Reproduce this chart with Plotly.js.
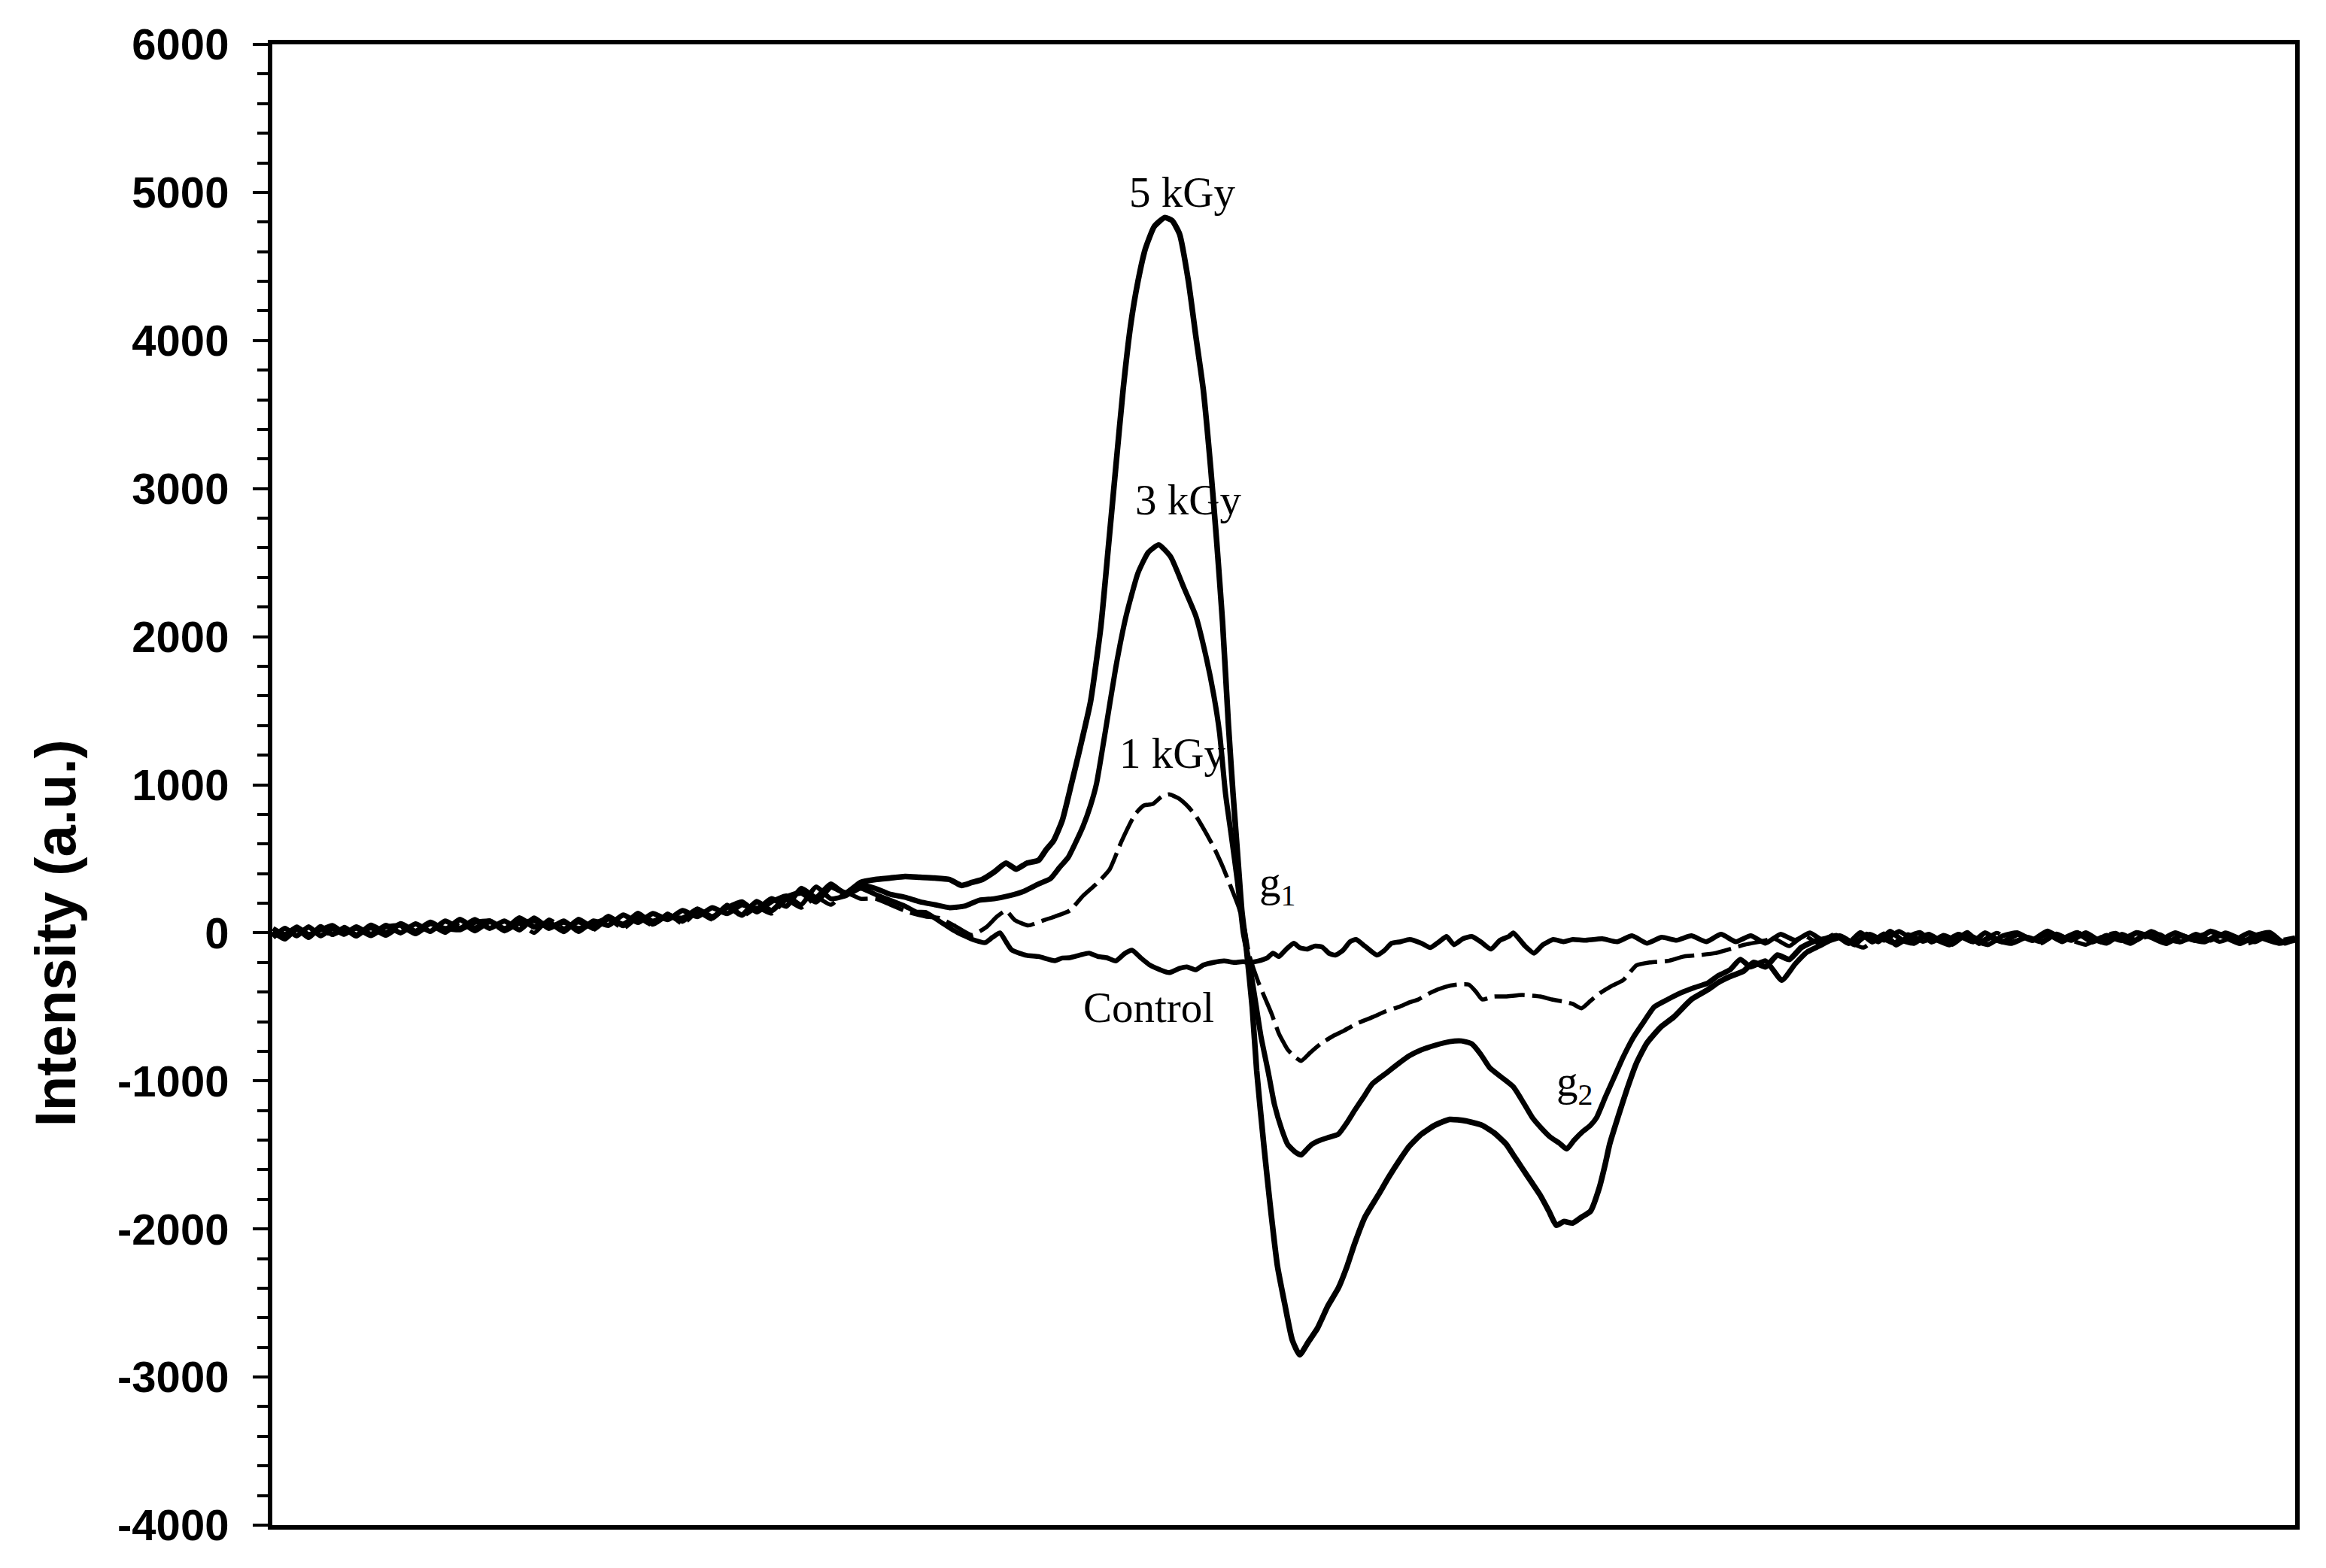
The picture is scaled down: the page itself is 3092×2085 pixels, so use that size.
<!DOCTYPE html>
<html>
<head>
<meta charset="utf-8">
<script src="https://cdn.plot.ly/plotly-3.0.1.min.js"></script>
<style>
html,body{margin:0;padding:0;background:#fff;}
#chart{width:3092px;height:2085px;}
</style>
</head>
<body>
<div id="chart"></div>
<script>
// Magnetic field position (arbitrary, unlabeled axis) and EPR intensity (a.u.)
const field5 = [184,192,200,208,216,224,232,240,250,260,270,280,290,300,310,320,330,340,350,360,370,380,390,400,410,420,430,440,450,460,470,480,490,500,510,520,530,540,550,560,570,580,590,
600,610,620,630,640,648,655,662,670,678,685,692,700,705,710,716,722,728,735,742,747,752,757,762,767,772,778,785,790,795,801,806,811,816,820,824,828,831,834,837,840,844,847,852,856,861,866,871,876,882,888,895,902,908,913,920,929,936,943,950,958,967,977,988,999,1007,1015,1020,1026,1032,1038,1044,1049,1054,1060,1066,1072,1078,1082,1085,1091,1097,1103,1110,1119,1128,1140,1151,1159,1166,1175,1182,1190,1198,1206,1214,1222,1230,
1238,1246,1254,1262,1270,1278,1286,1294,1302,1310,1318,1326,1334,1342,1350,1360,1370,1380,1390,1400,1410,1420,1430,1440,1450,1460,1470,1480,1490,1500,1510,1520,1530,1538,1547];
const int5 = [10,-40,30,-30,40,-10,30,-20,50,0,60,10,70,20,90,30,80,20,100,40,70,10,90,30,110,50,130,60,120,80,160,100,180,120,210,150,240,270,210,310,270,340,360,
370,380,375,370,360,320,340,360,410,470,430,470,490,560,620,760,1000,1250,1560,2070,2600,3140,3670,4100,4400,4620,4770,4830,4810,4720,4400,4030,3670,3140,2650,2100,1400,950,550,150,-100,-500,-930,-1450,-1830,-2250,-2510,-2750,-2850,-2760,-2670,-2520,-2400,-2250,-2100,-1920,-1770,-1650,-1540,-1440,-1360,-1300,-1260,-1270,-1300,-1350,-1425,-1500,-1590,-1680,-1770,-1880,-1975,-1950,-1960,-1920,-1880,-1720,-1560,-1425,-1230,-1045,-880,-745,-640,-570,-450,-385,-330,-295,-260,-200,-230,-150,-180,-100,-60,-40,
-20,-70,0,-60,-10,-80,-30,0,-60,-20,-50,0,-70,-30,-60,-10,-50,10,-40,0,-60,-20,-50,0,-30,-70,-20,-50,10,-30,-70,-20,0,-60,-40];

const field3 = [184,192,200,208,216,224,232,240,250,260,270,280,290,300,310,320,330,340,350,360,370,380,390,400,410,420,430,440,450,460,470,480,490,500,510,520,530,540,550,560,570,580,590,
600,610,620,630,640,650,660,670,680,690,700,708,714,720,725,730,735,739,745,752,759,767,774,781,789,798,806,813,818,822,826,830,834,838,842,846,850,855,859,864,868,873,877,881,884,890,896,902,908,913,919,925,934,943,950,958,967,977,985,992,998,1004,1012,1020,1027,1033,1039,1045,1051,1056,1061,1067,1072,1076,1082,1088,1094,1101,1108,1115,1124,1133,1142,1151,1158,1166,1173,1180,1190,1201,1210,1218,1226,1234,
1242,1250,1258,1266,1274,1282,1290,1298,1306,1314,1322,1330,1338,1346,1356,1366,1376,1386,1396,1406,1416,1426,1436,1446,1456,1466,1476,1486,1496,1506,1516,1526,1536,1547];
const int3 = [-30,30,-20,40,-20,30,-10,40,-10,50,0,60,10,80,30,90,30,80,20,100,30,80,10,80,50,120,70,130,90,150,110,170,130,190,160,230,180,300,240,330,260,320,300,
260,240,210,190,170,180,220,230,250,280,330,366,440,510,610,720,860,1005,1360,1790,2140,2430,2570,2620,2540,2330,2140,1860,1610,1350,940,650,350,0,-200,-450,-705,-950,-1160,-1330,-1430,-1480,-1500,-1460,-1430,-1400,-1380,-1360,-1280,-1200,-1110,-1020,-950,-880,-830,-790,-760,-735,-730,-750,-820,-910,-975,-1040,-1150,-1250,-1320,-1380,-1420,-1460,-1400,-1340,-1300,-1250,-1110,-975,-840,-705,-600,-500,-450,-405,-370,-340,-290,-250,-180,-230,-190,-320,-210,-130,-90,-50,
-30,-80,-10,-60,10,-50,-70,-20,-50,-80,-30,-60,0,-50,-70,-30,-60,-10,-50,0,-60,-30,-70,-10,-50,0,-40,-60,-10,-50,0,-40,-70,-50];

const field1 = [184,192,200,208,216,224,232,240,250,260,270,280,290,300,310,320,330,340,350,360,370,380,390,400,410,420,430,440,450,460,470,480,490,500,510,520,530,540,550,560,570,580,590,
600,612,624,633,643,655,665,672,678,684,693,702,711,721,730,740,748,756,765,771,777,783,788,794,800,806,812,818,824,830,835,839,842,848,853,857,862,868,873,877,883,890,898,906,915,925,934,943,950,956,965,974,982,990,995,999,1007,1015,1026,1038,1046,1054,1060,1066,1072,1078,1086,1094,1103,1112,1124,1135,1146,1156,1166,1176,1186,
1196,1206,1216,1226,1236,1246,1256,1266,1276,1286,1296,1306,1316,1326,1336,1346,1356,1366,1376,1386,1396,1406,1416,1426,1436,1446,1456,1466,1476,1486,1496,1506,1516,1526,1536,1547];
const int1 = [0,-40,20,-30,30,-20,40,-10,30,-20,40,-10,50,0,70,10,70,10,60,0,90,30,70,20,90,30,100,50,130,60,140,90,190,110,170,130,220,170,240,190,270,230,230,
190,140,110,100,50,-15,40,110,150,86,50,80,110,150,250,340,430,620,800,860,870,920,935,910,860,790,690,580,450,300,170,20,-150,-330,-450,-545,-680,-790,-840,-865,-810,-750,-700,-660,-610,-570,-530,-500,-470,-450,-400,-365,-350,-350,-400,-450,-430,-430,-420,-430,-450,-465,-480,-510,-460,-410,-360,-320,-220,-200,-190,-160,-150,-137,-110,-80,-60,
-40,-90,-20,-70,-10,-60,-100,-30,-70,-10,-60,-30,-80,-10,-50,0,-60,-30,-70,-10,-50,-80,-30,0,-60,-30,-10,-70,-40,-10,-60,-30,-70,-20,-50,-30];

const fieldC = [184,192,200,208,216,224,232,240,250,260,270,280,290,300,310,320,330,340,350,360,370,380,390,400,410,420,430,440,450,460,470,480,490,500,510,520,530,540,550,560,570,580,590,
600,610,618,624,633,643,650,657,664,669,674,678,682,692,700,711,716,721,728,734,740,746,752,758,763,769,775,782,788,795,800,806,811,818,825,832,838,842,848,854,858,862,867,872,876,881,886,891,896,900,905,910,914,920,928,933,938,944,950,958,964,970,975,980,986,992,998,1005,1011,1017,1020,1028,1034,1040,1047,1054,1060,1068,1080,1090,1100,1110,1120,1130,1140,1150,
1160,1170,1180,1190,1200,1210,1220,1230,1240,1250,1260,1270,1280,1290,1300,1310,1320,1330,1340,1350,1360,1370,1380,1390,1400,1410,1420,1430,1440,1450,1460,1470,1480,1490,1500,1510,1520,1530,1540,1547];
const intC = [30,-10,40,-10,20,50,0,30,-20,40,50,0,60,30,20,70,80,30,70,80,40,70,30,60,100,60,120,80,110,100,160,110,170,210,140,210,250,190,310,230,250,300,260,
220,180,140,137,80,15,-20,-50,-66,-30,0,-60,-117,-152,-160,-188,-170,-168,-150,-137,-160,-168,-190,-140,-117,-170,-218,-250,-269,-240,-230,-250,-218,-200,-190,-200,-195,-200,-190,-170,-137,-160,-110,-70,-100,-110,-90,-95,-140,-150,-120,-60,-45,-90,-150,-120,-70,-60,-45,-70,-100,-60,-25,-80,-40,-25,-60,-110,-50,-25,0,-90,-137,-80,-45,-60,-45,-50,-40,-60,-20,-70,-30,-50,-20,-60,
-10,-60,-20,-70,-10,-50,0,-60,-20,-70,-10,-50,10,-50,-10,-60,-10,-50,-80,-20,0,-50,-10,-60,0,-40,-70,-10,-50,10,-40,-60,-10,-50,0,-40,-60,-10,-70,-40];

// Y axis tick labels
const yTickVals = [-4000,-3000,-2000,-1000,0,1000,2000,3000,4000,5000,6000];
const yTickText = ['-4000','-3000','-2000','-1000','0','1000','2000','3000','4000','5000','6000'];

// Labels drawn on the spectrum
const labelText = ['5 kGy','3 kGy','1 kGy','g<sub>1</sub>','Control','g<sub>2</sub>'];
const labelField = [797, 801, 790, 861, 774, 1061];
const labelInt = [5000, 2926, 1212, 320, -501, -1022];

const lineStyle = {color:'#000', width:7, shape:'spline', smoothing:0.5};
const traces = [
  {x: fieldC, y: intC, name:'Control', mode:'lines', line: Object.assign({}, lineStyle, {width:6.5})},
  {x: field1, y: int1, name:'1 kGy', mode:'lines', line: Object.assign({}, lineStyle, {width:5.5, dash:'40px,10px'})},
  {x: field3, y: int3, name:'3 kGy', mode:'lines', line: Object.assign({}, lineStyle)},
  {x: field5, y: int5, name:'5 kGy', mode:'lines', line: Object.assign({}, lineStyle, {width:7.5})}
];

const annotations = labelText.map((t, i) => ({
  x: labelField[i], y: labelInt[i], xref:'x', yref:'y', text: t, showarrow:false,
  xanchor:'center', yanchor:'middle',
  font:{family:'Liberation Serif, Times New Roman, serif', size:57, color:'#000'}
}));
annotations.push({
  text:'Intensity (a.u.)', xref:'paper', yref:'y', x:-0.1075, y:0, textangle:-90,
  showarrow:false, xanchor:'center', yanchor:'middle',
  font:{family:'Liberation Sans, Arial, sans-serif', size:76, color:'#000', weight:'bold'}
});

const layout = {
  width:3092, height:2085,
  paper_bgcolor:'#fff', plot_bgcolor:'#fff',
  margin:{l:362, r:41, t:59, b:57, pad:0},
  showlegend:false,
  xaxis:{range:[183.5,1547], showline:true, linewidth:6, linecolor:'#000', mirror:true,
         ticks:'', showticklabels:false, showgrid:false, zeroline:false},
  yaxis:{range:[-4000,6000], tickmode:'array', tickvals:yTickVals, ticktext:yTickText,
         ticks:'outside', ticklen:20, tickwidth:4, tickcolor:'#000',
         showline:true, linewidth:6, linecolor:'#000', mirror:true,
         showgrid:false, zeroline:false, ticklabelstandoff:20,
         tickfont:{family:'Liberation Sans, Arial, sans-serif', size:58, color:'#000', weight:'bold'},
         minor:{dtick:200, ticks:'outside', ticklen:14, tickwidth:4, tickcolor:'#000', showgrid:false}},
  annotations: annotations
};

Plotly.newPlot('chart', traces, layout, {displayModeBar:false, staticPlot:true});
</script>
</body>
</html>
